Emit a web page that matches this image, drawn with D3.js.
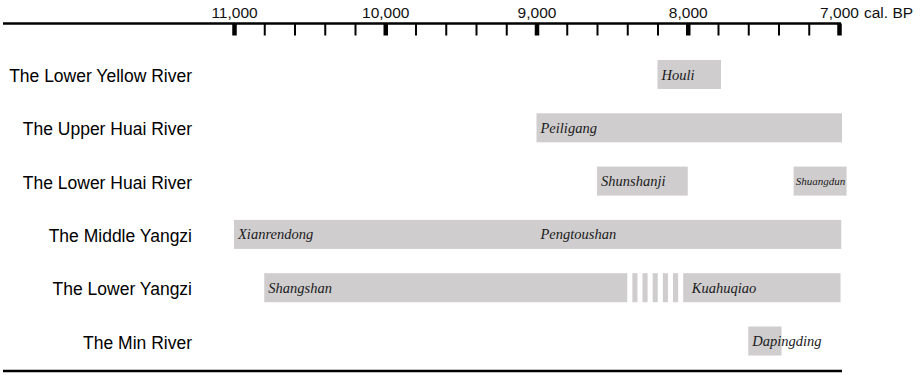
<!DOCTYPE html>
<html>
<head>
<meta charset="utf-8">
<script src="https://cdn.jsdelivr.net/npm/d3@7"></script>
<style>
  html, body { margin: 0; padding: 0; background: #fff; }
  svg { display: block; }
</style>
</head>
<body>
<svg id="chart" width="920" height="375"></svg>
<script>
// ---- data ----
const regions = ["The Lower Yellow River", "The Upper Huai River", "The Lower Huai River",
                 "The Middle Yangzi", "The Lower Yangzi", "The Min River"];
const majorTicks = [11000, 10000, 9000, 8000, 7000];
const minorTicks = [10800, 10600, 10400, 10200, 9800, 9600, 9400, 9200,
                    8800, 8600, 8400, 8200, 7800, 7600, 7400, 7200];
const axisUnit = "cal. BP";

// bars (cal. BP, older start -> younger end)
const barRegion = [0, 1, 2, 2, 3, 4, 4, 5];
const barStart  = [8200, 9000, 8600, 7300, 11000, 10800, 8030, 7600];
const barEnd    = [7780, 6980, 8000, 6950, 6985, 8400, 6990, 7380];

// culture labels
const labelText   = ["Houli", "Peiligang", "Shunshanji", "Shuangdun", "Xianrendong",
                     "Pengtoushan", "Shangshan", "Kuahuqiao", "Dapingding"];
const labelRegion = [0, 1, 2, 2, 3, 3, 4, 4, 5];
const labelYear   = [8200, 9000, 8600, 7300, 11000, 9000, 10800, 8000, 7600];
const labelSize   = [14.5, 14.5, 14.5, 11, 14.5, 14.5, 14.5, 14.5, 14.5];

// uncertain transition (striped) in the Lower Yangzi
const gapRegion = [4];
const gapStart  = [8400];
const gapEnd    = [8030];
const gapStripes = [5];

// ---- drawing ----
const svg = d3.select("#chart");
const x = d3.scaleLinear().domain([11000, 7000]).range([234, 839]);
const y = d3.scalePoint().domain(regions).range([74.5, 341]);
const barH = 29;
const barColor = "#cfcdce";
const axisY = 23.5;

// top axis line
svg.append("line")
  .attr("x1", 3).attr("x2", x(7000) + 2)
  .attr("y1", axisY).attr("y2", axisY)
  .attr("stroke", "#000").attr("stroke-width", 2.6);

// minor ticks
const gMinor = svg.append("g").attr("transform", `translate(0,${axisY})`)
  .call(d3.axisBottom(x).tickValues(minorTicks).tickSize(12).tickFormat(""));
gMinor.select(".domain").remove();
gMinor.selectAll(".tick line").attr("stroke", "#000").attr("stroke-width", 2);

// major ticks
const gMajor = svg.append("g").attr("transform", `translate(0,${axisY})`)
  .call(d3.axisBottom(x).tickValues(majorTicks).tickSize(12).tickFormat(""));
gMajor.select(".domain").remove();
gMajor.selectAll(".tick line").attr("stroke", "#000").attr("stroke-width", 4.5);

// tick labels
const gLab = svg.append("g").attr("transform", `translate(0,${axisY})`)
  .call(d3.axisTop(x).tickValues(majorTicks).tickSize(0).tickPadding(6)
        .tickFormat(d3.format(",")));
gLab.select(".domain").remove();
gLab.selectAll(".tick text")
  .attr("font-family", "Liberation Sans, Arial, sans-serif")
  .attr("font-size", 15.5).attr("fill", "#111");

svg.append("text")
  .attr("x", x(7000) + 25).attr("y", axisY - 6)
  .attr("font-family", "Liberation Sans, Arial, sans-serif")
  .attr("font-size", 15.5).attr("fill", "#111")
  .text(axisUnit);

// region labels
svg.append("g").selectAll("text").data(regions).join("text")
  .attr("x", 192).attr("y", d => y(d) + 7.5)
  .attr("text-anchor", "end")
  .attr("font-family", "Liberation Sans, Arial, sans-serif")
  .attr("font-size", 17.5).attr("fill", "#000")
  .text(d => d);

// bars
svg.append("g").selectAll("rect").data(barRegion.map((r, i) => i)).join("rect")
  .attr("x", i => x(barStart[i]))
  .attr("width", i => x(barEnd[i]) - x(barStart[i]))
  .attr("y", i => y(regions[barRegion[i]]) - barH / 2)
  .attr("height", barH)
  .attr("fill", barColor);

// striped transitions
gapRegion.forEach((r, k) => {
  const n = gapStripes[k] * 2 + 1;
  const step = (gapEnd[k] - gapStart[k]) / n;
  const idx = d3.range(1, n, 2);
  svg.append("g").selectAll("rect").data(idx).join("rect")
    .attr("x", j => x(gapStart[k] + step * j))
    .attr("width", j => x(gapStart[k] + step * (j + 1)) - x(gapStart[k] + step * j))
    .attr("y", y(regions[r]) - barH / 2)
    .attr("height", barH)
    .attr("fill", barColor);
});

// culture labels
svg.append("g").selectAll("text").data(labelText.map((t, i) => i)).join("text")
  .attr("x", i => x(labelYear[i]) + (labelSize[i] > 12 ? 4 : 2))
  .attr("y", i => y(regions[labelRegion[i]]) + (labelSize[i] > 12 ? 5 : 4))
  .attr("font-family", "Liberation Serif, 'Times New Roman', serif")
  .attr("font-style", "italic")
  .attr("font-size", i => labelSize[i])
  .attr("fill", "#1a1a1a")
  .text(i => labelText[i]);

// bottom rule
svg.append("line")
  .attr("x1", 3).attr("x2", 842)
  .attr("y1", 371).attr("y2", 371)
  .attr("stroke", "#000").attr("stroke-width", 2.6);
</script>
</body>
</html>
